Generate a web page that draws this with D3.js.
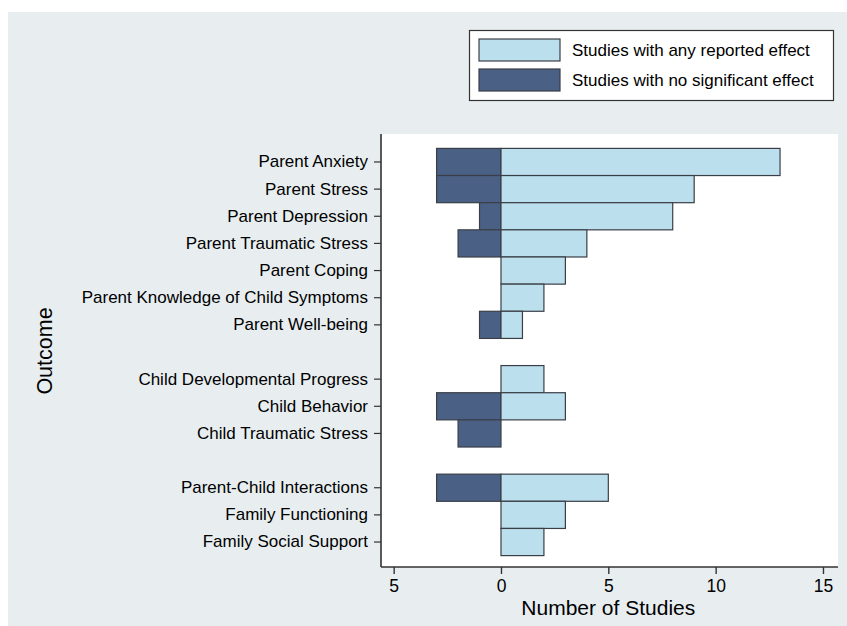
<!DOCTYPE html>
<html>
<head>
<meta charset="utf-8">
<script src="https://cdn.jsdelivr.net/npm/d3@7"></script>
<style>
  html, body { margin: 0; padding: 0; background: #ffffff; }
  svg { display: block; font-family: "Liberation Sans", Arial, Helvetica, sans-serif; }
</style>
</head>
<body>
<svg id="chart" width="847" height="626"></svg>
<script>
// Outcome categories, grouped; a null entry leaves an empty row between groups
const outcomes = [
  "Parent Anxiety", "Parent Stress", "Parent Depression", "Parent Traumatic Stress",
  "Parent Coping", "Parent Knowledge of Child Symptoms", "Parent Well-being",
  null,
  "Child Developmental Progress", "Child Behavior", "Child Traumatic Stress",
  null,
  "Parent-Child Interactions", "Family Functioning", "Family Social Support"
];
// Number of studies reporting any effect (drawn to the right of zero)
const anyEffect = [13, 9, 8, 4, 3, 2, 1, 2, 3, 0, 5, 3, 2];
// Number of studies with no significant effect (drawn to the left of zero)
const noEffect = [3, 3, 1, 2, 0, 0, 1, 0, 3, 2, 3, 0, 0];
const xTicks = [-5, 0, 5, 10, 15];
const seriesNames = ["Studies with any reported effect", "Studies with no significant effect"];

const colors = { any: "#bbdfec", none: "#4b6085", edge: "#3a3f47", bg: "#e8eef0" };

const svg = d3.select("#chart");
const W = 847, H = 626;
const plot = { left: 381, right: 838, top: 134, bottom: 567 };

// Outer background
svg.append("rect").attr("x", 8).attr("y", 12).attr("width", W - 8).attr("height", H - 12)
  .attr("fill", colors.bg);
// Plot region
svg.append("rect").attr("x", plot.left).attr("y", plot.top)
  .attr("width", plot.right - plot.left).attr("height", plot.bottom - plot.top)
  .attr("fill", "#ffffff");

// Build rows from the named arrays
const rows = [];
let k = 0;
outcomes.forEach((name, slot) => {
  if (name !== null) { rows.push({ name, slot, any: anyEffect[k], none: noEffect[k] }); k++; }
});

const x = d3.scaleLinear().domain([-5.59, 15.7]).range([plot.left, plot.right]);
const y = d3.scaleBand().domain(d3.range(outcomes.length)).range([148.4, 555.6]).padding(0);

// Bars: no-effect to the left of zero, any-effect to the right
const g = svg.append("g");
g.selectAll("rect.none").data(rows.filter(d => d.none > 0)).join("rect")
  .attr("class", "none")
  .attr("x", d => x(-d.none)).attr("y", d => y(d.slot))
  .attr("width", d => x(0) - x(-d.none)).attr("height", y.bandwidth())
  .attr("fill", colors.none).attr("stroke", colors.edge).attr("stroke-width", 1.2);
g.selectAll("rect.any").data(rows.filter(d => d.any > 0)).join("rect")
  .attr("class", "any")
  .attr("x", x(0)).attr("y", d => y(d.slot))
  .attr("width", d => x(d.any) - x(0)).attr("height", y.bandwidth())
  .attr("fill", colors.any).attr("stroke", colors.edge).attr("stroke-width", 1.2);

// X axis
const xAxis = d3.axisBottom(x).tickValues(xTicks).tickFormat(d => Math.abs(d))
  .tickSize(7).tickPadding(6);
const xg = svg.append("g").attr("transform", `translate(0,${plot.bottom})`).call(xAxis);
xg.select(".domain").attr("d", `M${plot.left},0H${plot.right}`).attr("stroke", "#333").attr("stroke-width", 1.6);
xg.selectAll(".tick line").attr("stroke", "#333").attr("stroke-width", 1.4);
xg.selectAll(".tick text").attr("font-size", 17.5).attr("fill", "#000")
  .attr("font-family", "Liberation Sans, Arial, sans-serif");

// Y axis
const yAxis = d3.axisLeft(y).tickValues(rows.map(d => d.slot))
  .tickFormat(s => outcomes[s]).tickSize(7).tickPadding(6);
const yg = svg.append("g").attr("transform", `translate(${plot.left},0)`).call(yAxis);
yg.select(".domain").attr("d", `M0,${plot.top}V${plot.bottom}`).attr("stroke", "#333").attr("stroke-width", 1.6);
yg.selectAll(".tick line").attr("stroke", "#333").attr("stroke-width", 1.2);
yg.selectAll(".tick text").attr("font-size", 17).attr("fill", "#000")
  .attr("font-family", "Liberation Sans, Arial, sans-serif");

// Axis titles
svg.append("text").attr("x", x(5)).attr("y", 615).attr("text-anchor", "middle")
  .attr("font-size", 21).attr("fill", "#000").text("Number of Studies");
svg.append("text").attr("transform", "translate(52,351) rotate(-90)").attr("text-anchor", "middle")
  .attr("font-size", 21.5).attr("fill", "#000").text("Outcome");

// Legend
const lg = svg.append("g");
lg.append("rect").attr("x", 469.5).attr("y", 30.5).attr("width", 364).attr("height", 70)
  .attr("fill", "#ffffff").attr("stroke", "#333").attr("stroke-width", 1.2);
const legendItems = [
  { label: seriesNames[0], fill: colors.any },
  { label: seriesNames[1], fill: colors.none }
];
legendItems.forEach((it, i) => {
  const yy = 39 + i * 30;
  lg.append("rect").attr("x", 479).attr("y", yy).attr("width", 81).attr("height", 22)
    .attr("fill", it.fill).attr("stroke", colors.edge).attr("stroke-width", 1.2);
  lg.append("text").attr("x", 572).attr("y", yy + 17).attr("font-size", 17)
    .attr("fill", "#000").text(it.label);
});
</script>
</body>
</html>
